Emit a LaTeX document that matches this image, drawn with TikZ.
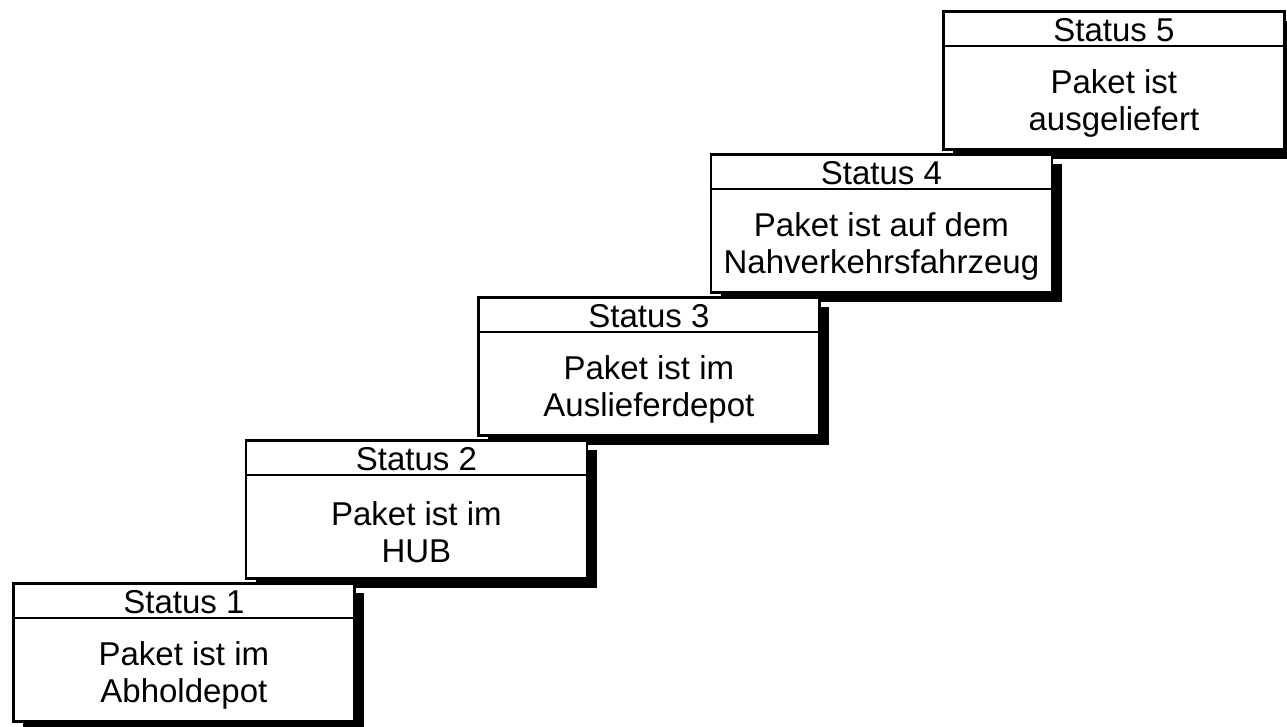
\documentclass[tikz,border=0pt]{standalone}
\usepackage{fontspec}
\setmainfont{Liberation Sans}
\usetikzlibrary{shadows,calc}
\begin{document}
\begin{tikzpicture}[x=1pt,y=-1pt,
  card/.style={draw=black, line width=2.8pt, fill=white,
    minimum width=341pt, minimum height=138pt, inner sep=0pt,
    anchor=north west,
    general shadow={fill=black, shadow xshift=10pt, shadow yshift=-10pt}},
  rule/.style={line width=2.4pt},
  head/.style={font=\fontsize{33}{37}\selectfont, inner sep=0pt},
  body/.style={font=\fontsize{33}{37}\selectfont, align=center, inner sep=0pt}]
\useasboundingbox (0,0) rectangle (1287,727);

% staircase of status cards, drawn top step first so lower cards overlap upper shadows
\foreach \i/\txt [evaluate=\i as \x using {12+232.5*(\i-1)},
                  evaluate=\i as \y using {582-143*(\i-1)}] in
  {5/{Paket ist\\ausgeliefert},
   4/{Paket ist auf dem\\Nahverkehrsfahrzeug},
   3/{Paket ist im\\Auslieferdepot},
   2/{Paket ist im\\HUB},
   1/{Paket ist im\\Abholdepot}} {
  \node[card] (s\i) at (\x,\y) {};
  \draw[rule] ($(s\i.north west)+(0,36)$) -- ($(s\i.north east)+(0,36)$);
  \node[head] (h\i) at ($(s\i.north)+(0,20)$) {Status \i};
  \node[body] (b\i) at ($(s\i.center)+(0,23)$) {\txt};
}
\end{tikzpicture}
\end{document}
